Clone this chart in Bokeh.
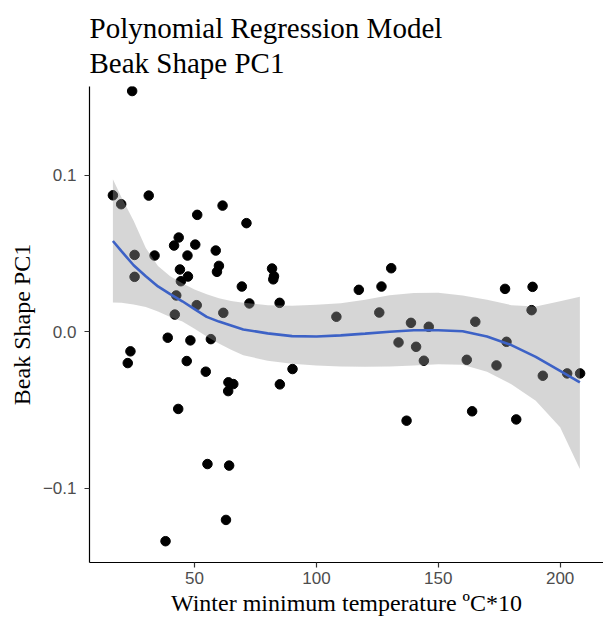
from bokeh.plotting import figure
from bokeh.models import Range1d, FixedTicker, Title
from bokeh.embed import file_html
from bokeh.resources import INLINE

# --- data ---
temp = [24.4, 16.5, 19.9, 31.2, 61.5, 51.1, 71.3, 43.5, 41.6, 50.3,
        25.4, 33.6, 47.1, 58.7, 60.0, 59.2, 44.0, 47.3, 25.4, 44.4,
        69.4, 72.5, 42.5, 50.9, 41.9, 61.8, 39.0, 48.3, 56.7, 23.7,
        22.6, 46.8, 54.6, 63.9, 65.9, 63.8, 43.3, 55.3, 64.2, 62.9,
        38.1, 81.8, 82.6, 82.3, 84.9, 108.2, 117.4, 126.7, 130.7, 125.8,
        138.8, 146.1, 133.7, 140.9, 144.1, 165.2, 161.7, 173.9, 178.0, 177.4,
        188.7, 188.3, 192.9, 202.9, 208.2, 90.2, 85.0, 137.0, 163.9, 182.0]
pc1 = [0.1538, 0.0872, 0.0815, 0.0870, 0.0806, 0.0747, 0.0694, 0.0602, 0.0551, 0.0557,
       0.0491, 0.0487, 0.0487, 0.0519, 0.0421, 0.0383, 0.0398, 0.0353, 0.0351, 0.0323,
       0.0289, 0.0181, 0.0232, 0.0170, 0.0110, 0.0121, -0.0038, -0.0055, -0.0047, -0.0125,
       -0.0200, -0.0187, -0.0255, -0.0323, -0.0334, -0.0379, -0.0493, -0.0845, -0.0855, -0.1202,
       -0.1338, 0.0404, 0.0355, 0.0335, 0.0185, 0.0096, 0.0268, 0.0289, 0.0406, 0.0123,
       0.0057, 0.0032, -0.0068, -0.0096, -0.0185, 0.0064, -0.0179, -0.0215, -0.0064, 0.0274,
       0.0287, 0.0138, -0.0281, -0.0266, -0.0266, -0.0238, -0.0336, -0.0568, -0.0508, -0.0560]

smooth_x = [16.5, 20, 25, 30, 35, 40, 45, 50, 55, 60, 65, 70, 80, 90, 100, 110, 120,
            130, 140, 150, 160, 170, 180, 190, 200, 208.1]
smooth_fit = [0.0580, 0.0515, 0.0425, 0.0355, 0.0290, 0.0240, 0.0195, 0.0145, 0.0095, 0.0065,
              0.0040, 0.0015, -0.0010, -0.0028, -0.0030, -0.0023, -0.0012, 0.0000, 0.0010, 0.0010,
              0.0003, -0.0030, -0.0085, -0.0160, -0.0250, -0.0323]
smooth_upper = [0.0974, 0.0860, 0.0710, 0.0535, 0.0420, 0.0355, 0.0310, 0.0270, 0.0240, 0.0215,
                0.0197, 0.0185, 0.0170, 0.0166, 0.0172, 0.0182, 0.0205, 0.0233, 0.0248, 0.0250,
                0.0232, 0.0205, 0.0170, 0.0162, 0.0195, 0.0223]
smooth_lower = [0.0187, 0.0185, 0.0175, 0.0158, 0.0130, 0.0095, 0.0065, 0.0020, -0.0030, -0.0075,
                -0.0115, -0.0150, -0.0185, -0.0205, -0.0216, -0.0222, -0.0223, -0.0222, -0.0215, -0.0207,
                -0.0210, -0.0255, -0.0335, -0.0440, -0.0610, -0.0876]

x_ticks = [50, 100, 150, 200]
y_ticks = [-0.1, 0.0, 0.1]
y_tick_labels = {-0.1: "\u22120.1", 0.0: "0.0", 0.1: "0.1"}

SERIF = "Liberation Serif"
SANS = "Liberation Sans"

p = figure(width=603, height=624, output_backend="svg", toolbar_location=None,
           x_range=Range1d(6.9, 217.8), y_range=Range1d(-0.1474, 0.1567),
           min_border_left=89, min_border_right=0, min_border_top=86, min_border_bottom=62)
p.title = None
p.add_layout(Title(text="Polynomial Regression Model\nBeak Shape PC1", text_font=SERIF,
                   text_font_size="29px", text_font_style="normal", text_color="black",
                   align="left", text_line_height=1.12, standoff=14), "above")

p.outline_line_color = None
p.xgrid.grid_line_color = None
p.ygrid.grid_line_color = None
p.background_fill_color = "white"
p.border_fill_color = "white"

p.scatter(temp, pc1, size=9.5, color="black")
p.varea(x=smooth_x, y1=smooth_lower, y2=smooth_upper, fill_color="#999999", fill_alpha=0.4)
p.line(smooth_x, smooth_fit, line_color="#3D62C6", line_width=2.6)

for ax in (p.xaxis[0], p.yaxis[0]):
    ax.axis_line_color = "black"
    ax.axis_line_width = 1.2
    ax.major_tick_line_color = "#333333"
    ax.major_tick_line_width = 1.2
    ax.major_tick_out = 5
    ax.major_tick_in = 0
    ax.minor_tick_line_color = None
    ax.major_label_text_font = SANS
    ax.major_label_text_font_size = "17px"
    ax.major_label_text_color = "#4D4D4D"
    ax.axis_label_text_font = SERIF
    ax.axis_label_text_font_size = "24px"
    ax.axis_label_text_font_style = "normal"
    ax.axis_label_text_color = "black"

p.xaxis.ticker = FixedTicker(ticks=x_ticks)
p.yaxis.ticker = FixedTicker(ticks=y_ticks)
p.yaxis.major_label_overrides = y_tick_labels
p.xaxis.axis_label = "Winter minimum temperature \u00baC*10"
p.yaxis.axis_label = "Beak Shape PC1"
p.xaxis.major_label_standoff = 4
p.xaxis.axis_label_standoff = 3
p.yaxis.major_label_standoff = 8
p.yaxis.axis_label_standoff = 5

open("out.html", "w").write(file_html(p, INLINE))
